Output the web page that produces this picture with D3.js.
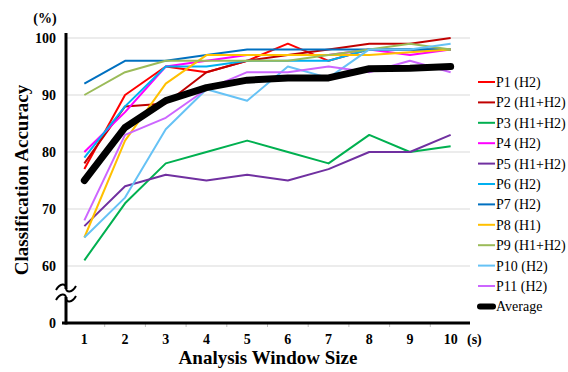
<!DOCTYPE html>
<html>
<head>
<meta charset="utf-8">
<script src="https://cdn.jsdelivr.net/npm/d3@7"></script>
<style>
  body { margin: 0; background: #fff; }
  svg { display: block; }
  text { font-family: "Liberation Serif", "Times New Roman", serif; }
</style>
</head>
<body>
<svg id="chart" width="568" height="372"></svg>
<script>
const windows = [1, 2, 3, 4, 5, 6, 7, 8, 9, 10];
const yTickValues = [50, 60, 70, 80, 90, 100];
const yTickLabels = ["0", "60", "70", "80", "90", "100"];
const seriesNames = ["P1 (H2)", "P2 (H1+H2)", "P3 (H1+H2)", "P4 (H2)", "P5 (H1+H2)", "P6 (H2)",
                     "P7 (H2)", "P8 (H1)", "P9 (H1+H2)", "P10 (H2)", "P11 (H2)", "Average"];
const seriesColors = ["#FF0000", "#C00000", "#00B050", "#FF00FF", "#7030A0", "#00B0F0",
                      "#0070C0", "#FFC000", "#9BBB59", "#66C2F5", "#CC66FF", "#000000"];
const P1  = [77, 90, 95, 94, 96, 99, 96, 98, 98, 98];
const P2  = [78, 88, 88.5, 94, 96, 97, 98, 99, 99, 100];
const P3  = [61, 71, 78, 80, 82, 80, 78, 83, 80, 81];
const P4  = [80, 87, 95, 96, 97, 97, 97, 98, 97, 98];
const P5  = [67, 74, 76, 75, 76, 75, 77, 80, 80, 83];
const P6  = [79, 88, 95, 95, 96, 96, 96, 98, 98, 98];
const P7  = [92, 96, 96, 97, 98, 98, 98, 98, 98, 98];
const P8  = [65, 82, 92, 97, 97, 97, 97, 97, 97.5, 98];
const P9  = [90, 94, 96, 96, 96, 96, 97, 98, 99, 98];
const P10 = [65, 72, 84, 91, 89, 95, 93, 98, 98, 99];
const P11 = [68, 83, 86, 91, 94, 94, 95, 94, 96, 94];
const Average = [75, 84.3, 89, 91.3, 92.6, 93, 93, 94.6, 94.7, 95];
const seriesValues = [P1, P2, P3, P4, P5, P6, P7, P8, P9, P10, P11, Average];

const svg = d3.select("#chart");
const plotLeft = 66, plotRight = 470, plotTop = 38, plotBottom = 323;

const x = d3.scaleBand().domain(windows).range([64, 471]);
const y = d3.scaleLinear().domain([50, 100]).range([plotBottom, plotTop]);
const cx = d => x(d) + x.bandwidth() / 2;

// gridlines
svg.append("g").selectAll("line").data(yTickValues.filter(v => v > 50)).join("line")
  .attr("x1", plotLeft).attr("x2", plotRight)
  .attr("y1", d => y(d)).attr("y2", d => y(d))
  .attr("stroke", "#d9d9d9").attr("stroke-width", 1);

// x minor ticks at band boundaries
svg.append("g").selectAll("line").data(windows.slice(1)).join("line")
  .attr("x1", d => x(d)).attr("x2", d => x(d))
  .attr("y1", plotBottom).attr("y2", plotBottom + 4)
  .attr("stroke", "#bfbfbf").attr("stroke-width", 1);

// series lines
const line = d3.line().x((d, i) => cx(windows[i])).y(d => y(d));
seriesValues.forEach((vals, k) => {
  const isAvg = k === seriesValues.length - 1;
  svg.append("path").datum(vals)
    .attr("d", line)
    .attr("fill", "none")
    .attr("stroke", seriesColors[k])
    .attr("stroke-width", isAvg ? 7 : 2)
    .attr("stroke-linejoin", "round")
    .attr("stroke-linecap", isAvg ? "round" : "butt");
});

// y axis with break
svg.append("line").attr("x1", plotLeft).attr("x2", plotLeft).attr("y1", 33).attr("y2", 289)
  .attr("stroke", "#000").attr("stroke-width", 3);
svg.append("line").attr("x1", plotLeft).attr("x2", plotLeft).attr("y1", 297).attr("y2", plotBottom + 1.5)
  .attr("stroke", "#000").attr("stroke-width", 3);
[288, 298].forEach(yy => {
  svg.append("path")
    .attr("d", `M56,${yy + 2} C60,${yy - 5} 66,${yy - 5} 66,${yy} C66,${yy + 5} 72,${yy + 5} 76,${yy - 2}`)
    .attr("fill", "none").attr("stroke", "#000").attr("stroke-width", 2);
});
// x axis
svg.append("line").attr("x1", plotLeft - 4).attr("x2", plotRight).attr("y1", plotBottom).attr("y2", plotBottom)
  .attr("stroke", "#000").attr("stroke-width", 3);

// y tick labels
svg.append("g").selectAll("text").data(yTickValues).join("text")
  .attr("x", 56).attr("y", d => y(d)).attr("dy", "0.35em")
  .attr("text-anchor", "end").attr("font-weight", "bold").attr("font-size", 14)
  .text((d, i) => yTickLabels[i]);

// x tick labels
svg.append("g").selectAll("text").data(windows).join("text")
  .attr("x", d => cx(d)).attr("y", 344)
  .attr("text-anchor", "middle").attr("font-weight", "bold").attr("font-size", 14)
  .text(d => d);

svg.append("text").attr("x", 467).attr("y", 344).attr("text-anchor", "start")
  .attr("font-weight", "bold").attr("font-size", 14).text("(s)");
svg.append("text").attr("x", 45).attr("y", 23).attr("text-anchor", "middle")
  .attr("font-weight", "bold").attr("font-size", 14).text("(%)");

// axis titles
svg.append("text").attr("x", 268).attr("y", 364).attr("text-anchor", "middle")
  .attr("font-weight", "bold").attr("font-size", 19).text("Analysis Window Size");
svg.append("text").attr("transform", "translate(28,180) rotate(-90)")
  .attr("text-anchor", "middle").attr("font-weight", "bold").attr("font-size", 19)
  .text("Classification Accuracy");

// legend
const lg = svg.append("g");
seriesNames.forEach((name, k) => {
  const yy = 82 + k * 20.4;
  const isAvg = k === seriesNames.length - 1;
  lg.append("line").attr("x1", isAvg ? 480 : 478).attr("x2", isAvg ? 493 : 495)
    .attr("y1", yy).attr("y2", yy)
    .attr("stroke", seriesColors[k]).attr("stroke-width", isAvg ? 6 : 2)
    .attr("stroke-linecap", isAvg ? "round" : "butt");
  lg.append("text").attr("x", 496).attr("y", yy).attr("dy", "0.35em")
    .attr("font-size", 14).text(name);
});
</script>
</body>
</html>
